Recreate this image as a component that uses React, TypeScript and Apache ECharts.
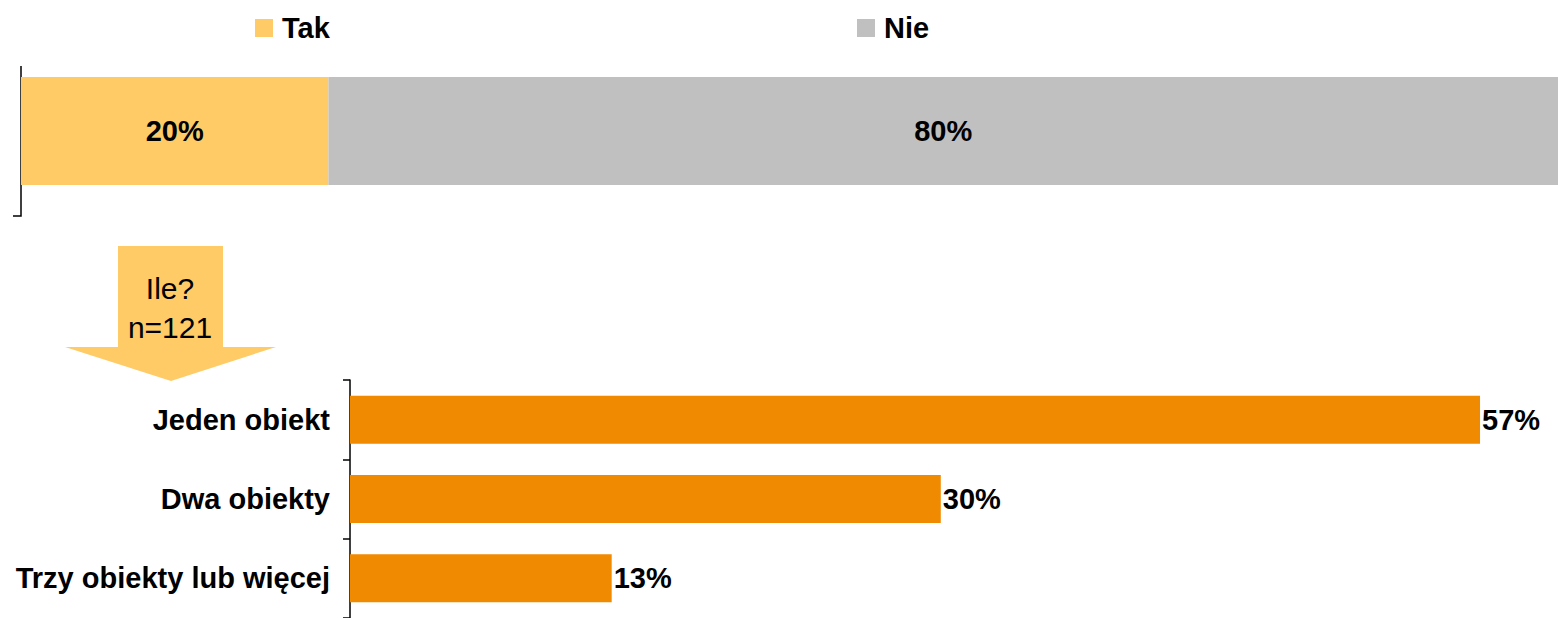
import React, { useEffect, useRef } from "react";
import * as echarts from "echarts";

const topSeriesNames = ["Tak", "Nie"];
const topValues = [20, 80];
const topColors = ["#FECB67", "#C0C0C0"];

const categories = ["Jeden obiekt", "Dwa obiekty", "Trzy obiekty lub więcej"];
const countValues = [57.0, 29.8, 13.2];
const countLabels = ["57%", "30%", "13%"];

const arrowLines = ["Ile?", "n=121"];

const FONT = "'Liberation Sans', Arial, sans-serif";

export default function App() {
  const ref = useRef<HTMLDivElement>(null);
  useEffect(() => {
    document.body.style.margin = "0";
    const chart = echarts.init(ref.current!, null, { renderer: "svg" });
    const option: any = {
      animation: false,
      textStyle: { fontFamily: FONT },
      legend: topSeriesNames.map((n, i) => ({
        data: [n],
        left: i === 0 ? 255 : 857,
        top: 13,
        padding: 0,
        icon: "rect",
        itemWidth: 18,
        itemHeight: 18,
        itemGap: 10,
        selectedMode: false,
        textStyle: {
          fontFamily: FONT,
          fontSize: 29,
          lineHeight: 30,
          fontWeight: "bold",
          color: "#000",
          padding: [0, 0, 0, 4],
        },
      })),
      grid: [
        { left: 21, right: 0, top: 56, height: 150 },
        { left: 350, right: 18.5, top: 380, height: 238 },
      ],
      xAxis: [
        { type: "value", gridIndex: 0, min: 0, max: 100, show: false },
        { type: "value", gridIndex: 1, min: 0, max: 60, show: false },
      ],
      yAxis: [
        {
          type: "category",
          gridIndex: 0,
          data: [""],
          axisLine: { show: false },
          axisTick: { show: false },
          axisLabel: { show: false },
        },
        {
          type: "category",
          gridIndex: 1,
          data: categories,
          inverse: true,
          axisLine: { show: true, lineStyle: { color: "#000", width: 1.5 } },
          axisTick: { show: true, length: 7, lineStyle: { color: "#000", width: 1.5 } },
          axisLabel: {
            margin: 20,
            color: "#000",
            fontFamily: FONT,
            fontSize: 29,
            fontWeight: "bold",
          },
        },
      ],
      series: [
        ...topSeriesNames.map((n, i) => ({
          name: n,
          type: "bar",
          stack: "top",
          xAxisIndex: 0,
          yAxisIndex: 0,
          data: [topValues[i]],
          barWidth: 108,
          itemStyle: { color: topColors[i] },
          label: {
            show: true,
            position: "inside",
            formatter: (p: any) => p.value + "%",
            color: "#000",
            fontFamily: FONT,
            fontSize: 29,
            fontWeight: "bold",
          },
        })),
        {
          name: "count",
          type: "bar",
          xAxisIndex: 1,
          yAxisIndex: 1,
          data: countValues,
          barWidth: 48,
          itemStyle: { color: "#F08A00" },
          label: {
            show: true,
            position: "right",
            distance: 2,
            formatter: (p: any) => countLabels[p.dataIndex],
            color: "#000",
            fontFamily: FONT,
            fontSize: 29,
            fontWeight: "bold",
          },
        },
      ],
      graphic: [
        {
          type: "polyline",
          shape: { points: [[21, 66], [21, 216], [13, 216]] },
          style: { stroke: "#000", lineWidth: 1.5, fill: null },
        },
        {
          type: "polygon",
          shape: {
            points: [
              [118, 246],
              [223, 246],
              [223, 347],
              [276, 347],
              [171, 381],
              [65, 347],
              [118, 347],
            ],
          },
          style: { fill: "#FECB67" },
        },
        ...arrowLines.map((t, i) => ({
          type: "text",
          x: 170,
          y: 288 + i * 39,
          style: {
            text: t,
            fill: "#000",
            font: `30px ${FONT}`,
            align: "center",
            verticalAlign: "middle",
          },
        })),
      ],
    };
    chart.setOption(option);
    return () => chart.dispose();
  }, []);
  return <div ref={ref} style={{ width: 1558, height: 618 }} />;
}
